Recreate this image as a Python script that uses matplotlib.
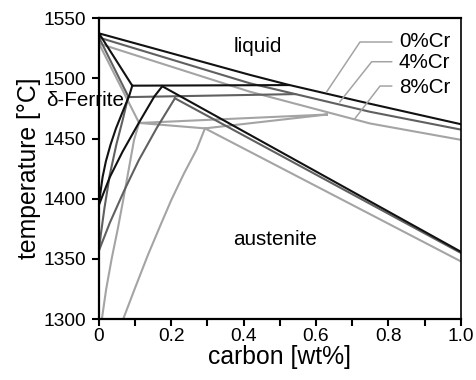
"""Fe-C isopleths for 0, 4 and 8 %Cr (peritectic corner)."""

import matplotlib

matplotlib.use("Agg")
import matplotlib.pyplot as plt

# ---- data (carbon wt%, temperature degC) ----
# 0 %Cr
cr0_liquidus_c = [0.0, 0.417, 0.52, 0.749, 1.0]
cr0_liquidus_t = [1537.5, 1503.0, 1495.0, 1479.0, 1462.0]
cr0_delta_liq_c = [0.0, 0.092]
cr0_delta_liq_t = [1537.5, 1494.0]
cr0_peritectic_c = [0.092, 0.525]
cr0_peritectic_t = [1494.0, 1494.5]
cr0_delta_solvus_c = [0.0, 0.004, 0.01, 0.019, 0.032, 0.047, 0.065, 0.084, 0.092]
cr0_delta_solvus_t = [1395.0, 1405.0, 1418.0, 1431.0, 1445.0, 1458.5, 1472.0, 1486.0, 1494.0]
cr0_gamma_c = [0.0, 0.03, 0.065, 0.11, 0.153, 0.175]
cr0_gamma_t = [1395.0, 1418.0, 1439.0, 1463.0, 1485.0, 1493.5]
cr0_solidus_c = [0.175, 1.0]
cr0_solidus_t = [1493.5, 1356.0]

# 4 %Cr
cr4_liquidus_c = [0.0, 0.417, 0.749, 1.0]
cr4_liquidus_t = [1534.0, 1496.0, 1472.3, 1457.5]
cr4_delta_liq_c = [0.0, 0.081]
cr4_delta_liq_t = [1534.0, 1485.0]
cr4_peritectic_c = [0.081, 0.543]
cr4_peritectic_t = [1484.5, 1487.0]
cr4_delta_solvus_c = [0.0, 0.005, 0.015, 0.03, 0.048, 0.066, 0.081]
cr4_delta_solvus_t = [1357.0, 1370.0, 1392.0, 1420.0, 1445.0, 1466.0, 1485.0]
cr4_gamma_c = [0.0, 0.03, 0.07, 0.11, 0.16, 0.21]
cr4_gamma_t = [1357.0, 1380.0, 1407.0, 1432.0, 1459.0, 1483.5]
cr4_solidus_c = [0.21, 1.0]
cr4_solidus_t = [1483.5, 1355.0]

# 8 %Cr
cr8_liquidus_c = [0.0, 0.417, 0.749, 1.0]
cr8_liquidus_t = [1529.0, 1489.0, 1462.6, 1449.0]
cr8_delta_liq_c = [0.0, 0.111]
cr8_delta_liq_t = [1529.0, 1463.0]
cr8_three_phase_c = [0.63, 0.111, 0.293, 0.63]
cr8_three_phase_t = [1470.0, 1463.0, 1458.5, 1470.0]
cr8_delta_solvus_c = [0.008, 0.02, 0.035, 0.052, 0.067, 0.082, 0.097, 0.111]
cr8_delta_solvus_t = [1300.0, 1325.0, 1350.0, 1375.0, 1399.0, 1424.0, 1449.0, 1463.0]
cr8_gamma_c = [0.067, 0.1, 0.135, 0.17, 0.2, 0.235, 0.27, 0.293]
cr8_gamma_t = [1300.0, 1326.0, 1353.0, 1378.0, 1399.0, 1421.0, 1441.0, 1458.5]
cr8_solidus_c = [0.293, 1.0]
cr8_solidus_t = [1458.5, 1348.0]

# label leaders: point on liquidus -> elbow -> text end
labels = ["0%Cr", "4%Cr", "8%Cr"]
leader_c = [[0.6295, 0.7216, 0.809], [0.666, 0.754, 0.809], [0.708, 0.777, 0.809]]
leader_t = [[1488.9, 1530.3, 1530.3], [1480.6, 1513.9, 1513.9], [1466.8, 1493.7, 1493.7]]
label_t = [1526.4, 1508.4, 1487.6]

BLACK = "#111111"
DARK = "#606060"
LIGHT = "#a4a4a4"


def main() -> None:
    plt.rcParams["font.family"] = ["Liberation Sans", "DejaVu Sans"]
    fig = plt.figure(figsize=(4.77, 3.80), dpi=100)
    ax = fig.add_axes([0.2075, 0.1605, 0.7583, 0.7913])

    lw = 1.5
    sets = [
        (LIGHT, [
            (cr8_liquidus_c, cr8_liquidus_t), (cr8_delta_liq_c, cr8_delta_liq_t),
            (cr8_three_phase_c, cr8_three_phase_t), (cr8_delta_solvus_c, cr8_delta_solvus_t),
            (cr8_gamma_c, cr8_gamma_t), (cr8_solidus_c, cr8_solidus_t),
        ]),
        (DARK, [
            (cr4_liquidus_c, cr4_liquidus_t), (cr4_delta_liq_c, cr4_delta_liq_t),
            (cr4_peritectic_c, cr4_peritectic_t), (cr4_delta_solvus_c, cr4_delta_solvus_t),
            (cr4_gamma_c, cr4_gamma_t), (cr4_solidus_c, cr4_solidus_t),
        ]),
        (BLACK, [
            (cr0_liquidus_c, cr0_liquidus_t), (cr0_delta_liq_c, cr0_delta_liq_t),
            (cr0_peritectic_c, cr0_peritectic_t), (cr0_delta_solvus_c, cr0_delta_solvus_t),
            (cr0_gamma_c, cr0_gamma_t), (cr0_solidus_c, cr0_solidus_t),
        ]),
    ]
    for color, curves in sets:
        for c, t in curves:
            ax.plot(c, t, color=color, lw=lw, solid_joinstyle="round")

    for name, lc, lt, ty in zip(labels, leader_c, leader_t, label_t):
        ax.plot(lc, lt, color=LIGHT, lw=1.1)
        ax.text(0.829, ty, name, fontsize=14.9, ha="left", va="baseline")

    ax.text(0.371, 1522.2, "liquid", fontsize=14.9, va="baseline")
    ax.text(0.371, 1361.4, "austenite", fontsize=14.9, va="baseline")
    ax.text(-0.147, 1477.0, "δ-Ferrite", fontsize=14.9, va="baseline", clip_on=False)

    ax.set_xlim(0, 1.0)
    ax.set_ylim(1300, 1550)
    ax.set_xticks([0, 0.2, 0.4, 0.6, 0.8, 1.0])
    ax.set_xticklabels(["0", "0.2", "0.4", "0.6", "0.8", "1.0"])
    ax.set_xticks([0.1, 0.3, 0.5, 0.7, 0.9], minor=True)
    ax.set_yticks(range(1300, 1551, 50))
    ax.tick_params(which="both", direction="out", length=5, width=1.5,
                   labelsize=13.8, color="black")
    ax.tick_params(axis="x", pad=1.5)
    ax.tick_params(axis="y", pad=4)
    for side in ["left", "bottom", "top"]:
        ax.spines[side].set_linewidth(1.6)
    ax.spines["right"].set_linewidth(1.2)

    ax.set_xlabel("carbon [wt%]", fontsize=17.8, labelpad=0)
    ax.set_ylabel("temperature [°C]", fontsize=17.8, labelpad=2)

    fig.savefig("out.png", dpi=100)


if __name__ == "__main__":
    main()
